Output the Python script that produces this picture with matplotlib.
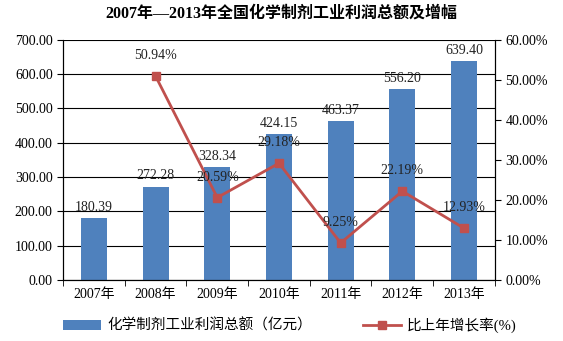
import matplotlib
matplotlib.use("Agg")
import matplotlib.pyplot as plt
import numpy as np

plt.rcParams['font.family'] = ['Liberation Serif', 'Noto Sans CJK SC']

years = ["2007年", "2008年", "2009年", "2010年", "2011年", "2012年", "2013年"]
profit = [180.39, 272.28, 328.34, 424.15, 463.37, 556.20, 639.40]
growth = [None, 50.94, 20.59, 29.18, 9.25, 22.19, 12.93]

bar_color = "#4F81BD"
line_color = "#C0504D"

fig = plt.figure(figsize=(5.63, 3.41), dpi=100)
ax = fig.add_axes([0.112, 0.179, 0.767, 0.704])
x = np.arange(len(years))

bars = ax.bar(x, profit, width=0.42, color=bar_color, zorder=2,
              label="化学制剂工业利润总额（亿元）")
for xi, v in zip(x, profit):
    ax.text(xi, v + 12, f"{v:.2f}", ha="center", va="bottom", fontsize=10, color="#222222")

ax.set_ylim(0, 700)
ax.set_yticks(range(0, 701, 100))
ax.set_yticklabels([f"{v:.2f}" for v in range(0, 701, 100)], fontsize=10)
ax.set_xlim(-0.5, len(years) - 0.5)
ax.set_xticks(x)
ax.set_xticklabels(years, fontsize=10)
ax.set_xticks(np.arange(-0.5, len(years), 1), minor=True)
ax.tick_params(axis="x", which="major", length=0, pad=6)
ax.tick_params(axis="x", which="minor", length=4, direction="out")
ax.tick_params(axis="y", length=4, direction="out")
ax.grid(axis="y", color="black", linewidth=0.8, zorder=0)
ax.spines["top"].set_visible(False)

ax2 = ax.twinx()
gx = [xi for xi, g in zip(x, growth) if g is not None]
gy = [g for g in growth if g is not None]
line, = ax2.plot(gx, gy, color=line_color, linewidth=2, marker="s", markersize=6,
                 label="比上年增长率(%)", zorder=3)
for xi, g in zip(gx, gy):
    ax2.text(xi, g + 3.5, f"{g:.2f}%", ha="center", va="bottom", fontsize=10, color="#222222")
ax2.set_ylim(0, 60)
ax2.set_yticks(range(0, 61, 10))
ax2.set_yticklabels([f"{v:.2f}%" for v in range(0, 61, 10)], fontsize=10)
ax2.tick_params(axis="y", length=4, direction="out")
ax2.spines["top"].set_visible(False)

fig.legend(handles=[bars, line], loc="lower center", ncol=2, frameon=False,
           fontsize=10.5, bbox_to_anchor=(0.515, -0.015), handlelength=2.6,
           handletextpad=0.4, columnspacing=3.5)

fig.suptitle("2007年—2013年全国化学制剂工业利润总额及增幅", fontsize=11.5,
             fontweight="bold", y=0.985)

fig.savefig("out.png", dpi=100)
